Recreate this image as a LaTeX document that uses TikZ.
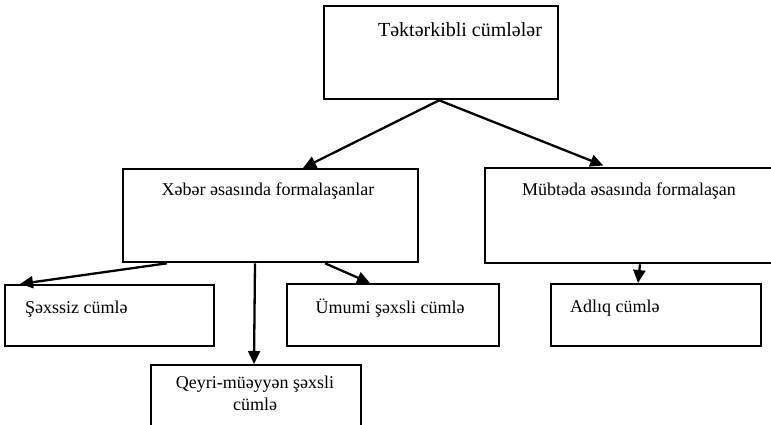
\documentclass[tikz,border=0pt]{standalone}
\usepackage{fontspec}
\setmainfont{Liberation Serif}
\usetikzlibrary{arrows.meta,positioning}
\begin{document}
\begin{tikzpicture}[x=1pt,y=-1pt,
  box/.style={draw=black,line width=2.3pt,rectangle,inner sep=0pt,anchor=north west},
  lbl/.style={inner sep=0pt,anchor=base,font=\fontsize{18}{22}\selectfont},
  conn/.style={line width=2.3pt,-{Triangle[length=13pt,width=12pt]}}]
\useasboundingbox (0,0) rectangle (771,424);
\clip (0,0) rectangle (771,424);
\fill[white] (0,0) rectangle (771,424);

% boxes
\node[box,minimum width=234pt,minimum height=93pt] (top) at (323,5) {};
\node[box,minimum width=295pt,minimum height=93pt] (xeber) at (122,168) {};
\node[box,minimum width=316pt,minimum height=95pt] (mubteda) at (484,167) {};
\node[box,minimum width=209pt,minimum height=61pt] (sexssiz) at (4,284) {};
\node[box,minimum width=212pt,minimum height=62pt] (umumi) at (286,283) {};
\node[box,minimum width=210pt,minimum height=62pt] (adliq) at (550,283) {};
\node[box,minimum width=210pt,minimum height=80pt] (qeyri) at (150,364) {};

% labels
\node[lbl,font=\fontsize{20}{24}\selectfont] (ttop) at (460,36) {Təktərkibli cümlələr};
\node[lbl] (txeber) at (268,195) {Xəbər əsasında formalaşanlar};
\node[lbl] (tmubteda) at (629,195) {Mübtəda əsasında formalaşan};
\node[lbl,anchor=base west] (tsexssiz) at (25,313) {Şəxssiz cümlə};
\node[lbl] (tumumi) at (390,313) {Ümumi şəxsli cümlə};
\node[lbl,anchor=base west] (tadliq) at (570,312) {Adlıq cümlə};
\node[lbl] (tqeyri1) at (255,388) {Qeyri-müəyyən şəxsli};
\node[lbl] (tqeyri2) at (255,410) {cümlə};

% connectors
\draw[conn] ([xshift=-2pt]top.south) -- ([xshift=181pt]xeber.north west);
\draw[conn,shorten >=4pt] ([xshift=-2pt]top.south) -- ([xshift=123pt]mubteda.north west);
\draw[conn] ([xshift=45pt]xeber.south west) -- ([xshift=16pt]sexssiz.north west);
\draw[conn] ([xshift=133pt]xeber.south west) -- ([xshift=104pt]qeyri.north west);
\draw[conn] ([xshift=203pt]xeber.south west) -- ([xshift=84pt]umumi.north west);
\draw[conn] ([xshift=156pt]mubteda.south west) -- ([xshift=88pt]adliq.north west);
\end{tikzpicture}
\end{document}
